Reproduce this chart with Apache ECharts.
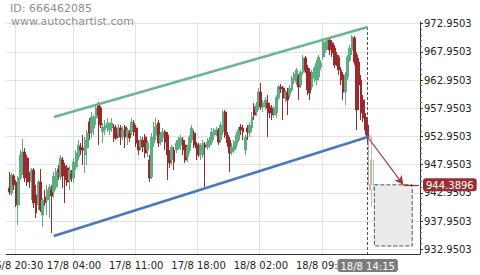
<!DOCTYPE html>
<html><head><meta charset="utf-8">
<script src="https://cdn.jsdelivr.net/npm/echarts@6/dist/echarts.min.js"></script>
<style>html,body{margin:0;padding:0;background:#fff}#c{width:480px;height:275px}</style>
</head><body><div id="c"></div>
<script>
// ---- data: candles [open, close, low, high], starting at category index 1 ----
const firstCandleIndex = 1;
const ohlc = [
[943.82,943.11,942.58,946.65],[942.93,946.12,942.40,946.48],[945.95,944.35,943.46,946.30],[944.88,940.80,940.45,945.24],
[940.80,945.59,937.26,945.95],[945.59,949.67,945.24,950.55],[946.65,950.20,946.12,952.51],[950.20,945.59,944.88,950.91],
[949.14,944.88,944.17,949.67],[945.59,945.06,943.82,946.65],[944.88,947.01,941.69,947.36],[947.01,941.16,940.27,947.36],
[942.58,939.39,938.50,944.35],[940.80,944.88,939.92,945.24],[944.88,939.92,939.56,947.19],[939.03,941.69,936.90,942.04],
[942.22,941.16,940.63,943.46],[941.69,943.46,939.03,944.35],[942.93,943.99,938.50,944.53],[943.46,942.40,935.84,944.35],
[943.11,945.95,942.04,946.65],[943.99,946.65,943.46,947.36],[947.19,946.65,945.24,947.90],[945.77,949.14,945.24,949.67],
[948.78,945.95,943.82,949.31],[947.72,945.24,941.16,948.25],[947.36,944.88,944.17,947.90],[945.24,947.01,943.46,947.72],
[946.30,945.59,944.88,947.01],[945.59,948.43,944.70,949.14],[947.54,950.02,947.01,950.55],[949.31,951.44,948.78,952.33],
[951.09,950.55,949.67,951.80],[950.91,950.55,947.90,953.21],[949.67,952.33,946.48,952.86],[950.91,953.57,947.90,954.10],
[955.52,953.57,952.33,956.23],[953.75,956.41,952.68,957.29],[954.46,956.41,953.21,956.76],[956.23,958.00,954.99,958.53],
[958.53,956.76,951.44,959.07],[958.00,954.99,954.46,958.36],[953.75,954.63,951.80,955.34],[954.10,954.99,953.21,955.87],
[954.46,955.34,953.75,956.23],[954.10,954.99,953.21,955.52],[954.46,955.34,953.75,956.23],[954.63,952.68,951.97,955.16],
[954.46,952.68,952.33,954.99],[953.21,954.46,952.68,955.16],[954.46,952.86,951.44,954.99],[952.86,954.10,952.33,954.81],
[954.63,952.86,950.91,954.99],[952.86,954.10,951.44,954.46],[953.57,952.68,951.97,954.10],[953.75,955.52,953.21,956.23],
[955.34,953.75,953.04,955.87],[954.46,951.80,951.09,954.99],[951.80,950.55,949.67,952.33],[951.09,952.33,950.55,953.04],
[952.33,951.09,950.20,952.86],[952.86,950.02,949.14,953.39],[950.55,951.80,949.31,952.33],[948.78,945.59,944.88,949.67],
[945.77,952.86,945.41,953.57],[951.80,954.63,951.09,955.52],[953.21,954.99,952.33,956.23],[955.34,951.80,951.09,955.87],
[951.97,953.21,951.44,953.75],[952.68,953.75,951.97,954.46],[953.75,951.97,950.55,954.10],[953.21,949.67,945.24,953.75],
[950.02,948.25,947.36,950.55],[948.78,951.09,947.90,951.44],[950.55,948.43,947.01,951.09],[950.55,951.80,950.02,952.33],
[950.91,952.33,950.55,952.86],[951.44,952.68,950.55,953.21],[952.33,950.55,949.67,952.86],[951.44,948.78,948.25,952.33],
[949.31,951.09,948.43,951.44],[950.55,952.86,950.02,953.21],[952.33,954.46,951.80,954.99],[953.57,951.44,950.91,954.10],
[951.44,950.91,948.78,951.97],[951.44,949.67,949.31,951.80],[949.67,951.44,948.78,951.80],[949.67,951.80,949.14,952.33],
[951.44,951.09,943.99,951.97],[951.09,951.97,950.55,952.68],[951.44,952.33,950.91,952.86],[951.97,953.75,951.44,954.46],
[953.21,954.10,952.33,954.46],[953.57,954.10,953.04,954.63],[954.10,951.97,951.44,954.46],[952.33,954.99,951.80,955.52],
[953.75,957.29,953.21,957.65],[957.29,953.21,952.68,957.65],[953.21,951.80,951.09,953.75],[952.33,950.02,946.65,952.86],
[950.20,951.09,949.67,951.80],[950.55,951.97,950.02,952.33],[951.44,953.21,950.91,953.75],[952.33,954.10,951.97,954.63],
[954.63,954.10,953.21,955.16],[954.46,953.75,952.33,954.99],[950.55,952.86,949.67,953.21],[954.46,953.75,952.33,954.99],
[953.57,954.99,952.86,955.52],[954.46,956.41,953.75,957.29],[958.18,956.76,955.87,958.89],[957.29,958.53,956.58,959.07],
[958.18,960.84,957.65,961.55],[960.84,958.18,957.65,962.43],[958.18,958.89,957.29,959.42],[958.53,959.42,957.65,959.95],
[958.89,958.00,952.86,960.31],[958.18,957.12,956.23,958.89],[958.00,956.76,955.87,958.53],[956.76,958.00,956.23,958.36],
[957.12,959.95,956.23,960.31],[959.77,961.72,959.42,962.08],[961.72,961.37,960.66,962.26],[961.55,959.77,955.87,961.90],
[959.77,960.84,959.07,961.19],[960.84,959.42,956.76,961.55],[960.31,961.55,959.77,962.08],[961.19,963.32,960.84,963.68],
[962.97,964.03,962.26,964.38],[962.61,964.74,962.08,965.09],[963.50,961.72,959.42,964.03],[962.08,964.38,961.55,964.74],
[964.38,966.87,963.85,967.40],[966.87,964.74,964.21,967.22],[965.09,961.19,960.31,965.63],[964.38,960.66,959.42,965.09],
[961.72,964.38,961.19,964.74],[963.32,965.09,962.61,965.45],[962.97,965.98,962.08,966.51],[963.50,967.04,962.97,967.40],
[965.27,965.98,964.74,966.51],[967.04,969.70,966.51,970.41],[968.28,969.35,967.75,969.88],[968.82,970.06,968.28,970.41],
[970.06,968.28,967.40,970.59],[969.53,967.75,967.04,970.06],[968.64,965.63,965.09,969.17],[967.40,966.16,965.45,967.93],
[967.04,964.74,963.85,967.40],[964.74,962.97,962.08,965.27],[963.85,960.84,959.42,964.38],[960.84,963.85,958.53,964.38],
[963.50,967.04,962.97,967.40],[966.51,968.64,966.16,969.17],[968.28,970.59,967.40,970.94],[970.41,966.16,965.63,970.77],
[967.40,957.65,954.10,967.93],[966.16,962.08,957.65,966.87],[962.97,957.12,955.87,963.85],[959.42,956.23,955.52,960.31],
[956.41,954.10,953.21,957.12],[954.99,952.86,951.97,955.87]
];
// candles after the pattern (faded)
const fadedStartIndex = 163;
const fadedOhlc = [[952.86,944.35,943.46,953.21],[943.46,948.78,940.45,951.80]];

// ---- axis ----
const categoryCount = 186;
const xLabelIndex = [4, 30, 58, 86, 114, 142];
const xLabels = ['16/8 20:30', '17/8 04:00', '17/8 11:00', '17/8 18:00', '18/8 02:00', '18/8 09:00'];
const xTickIndex = [4, 11, 17, 24, 30, 37, 44, 51, 58, 65, 72, 79, 86, 93, 100, 107, 114, 121, 128, 135, 142, 149, 156, 163, 170, 177, 184];
const lastBarIndex = 162;
const lastBarLabel = '18/8 14:15';
const yLabels = [932.9503, 937.9503, 942.9503, 947.9503, 952.9503, 957.9503, 962.9503, 967.9503, 972.9503];
const yMin = 932.12, yMax = 973.25;

// ---- pattern / forecast ----
const trendIndex = [21, 162];
const resistanceValues = [956.41, 972.36];
const supportValues = [935.31, 952.86];
const arrowIndex = [162, 178];
const arrowValues = [952.86, 944.3896];
const targetPrice = 944.3896;
const targetLineIndex = [178, 185];
const forecastIndex = [165, 182];
const forecastValues = [944.3896, 933.54];

// ---- build ----
const categories = [];
for (let i = 0; i < categoryCount; i++) {
  const k = xLabelIndex.indexOf(i);
  categories.push(k >= 0 ? xLabels[k] : (i === lastBarIndex ? lastBarLabel : 'c' + i));
}
const mainData = categories.map((c, i) => {
  const j = i - firstCandleIndex;
  return (j >= 0 && j < ohlc.length) ? ohlc[j] : '-';
});
const fadedData = categories.map((c, i) => {
  const j = i - fadedStartIndex;
  return (j >= 0 && j < fadedOhlc.length) ? fadedOhlc[j] : '-';
});
const yMinor = [];
yLabels.forEach((v, n) => { if (n < yLabels.length - 1) for (let s = 1; s < 5; s++) yMinor.push(+(v + s).toFixed(4)); });

const RED = '#9a282c', GREEN = '#5cad82';
const AX = '#333';
const FONT = 'DejaVu Sans';

const chart = echarts.init(document.getElementById('c'), null, { renderer: 'svg' });
const gridBox = { left: 6, right: 60, top: 22, bottom: 21, outerBoundsMode: 'none', containLabel: false };
chart.setOption({
  animation: false,
  backgroundColor: '#fff',
  graphic: [
    { type: 'text', left: 10, top: 3, style: { text: 'ID: 666462085', fill: '#8e8e8e', font: '11px "DejaVu Sans"' }, z: 100 },
    { type: 'text', left: 11, top: 16, style: { text: 'www.autochartist.com', fill: '#8e8e8e', font: '11px "DejaVu Sans"' }, z: 100 }
  ],
  grid: [Object.assign({}, gridBox), Object.assign({}, gridBox)],
  xAxis: [{
    type: 'category', data: categories, boundaryGap: true,
    axisLine: { lineStyle: { color: AX, width: 1 } },
    axisTick: { interval: (i) => xTickIndex.indexOf(i) >= 0, length: 3, lineStyle: { color: AX } },
    axisLabel: { interval: (i) => xLabelIndex.indexOf(i) >= 0, color: '#222', fontFamily: FONT, fontSize: 10, margin: 6 },
    splitLine: { show: true, interval: (i) => xLabelIndex.indexOf(i) >= 0, lineStyle: { color: '#e2e2e2', width: 1 } },
    axisPointer: {
      show: true, status: 'show', value: lastBarIndex, triggerTooltip: false, type: 'line',
      lineStyle: { opacity: 0 },
      label: { show: true, backgroundColor: '#7b7b7b', color: '#fff', fontFamily: FONT, fontSize: 10, padding: [2, 3, 1, 3], margin: 5 }
    }
  }, {
    type: 'category', gridIndex: 1, data: categories, show: false
  }],
  yAxis: [{
    type: 'value', position: 'right', min: yMin, max: yMax, scale: true,
    axisLine: { show: true, lineStyle: { color: AX, width: 1 } },
    axisTick: { show: true, customValues: yLabels, length: 3, lineStyle: { color: AX } },
    axisLabel: { customValues: yLabels, formatter: (v) => Number(v).toFixed(4), color: '#222', fontFamily: FONT, fontSize: 10, margin: 4 },
    splitLine: { show: true, lineStyle: { color: '#e2e2e2', width: 1 } },
    axisPointer: {
      show: true, status: 'show', value: targetPrice, triggerTooltip: false, type: 'line',
      lineStyle: { opacity: 0 },
      label: { show: true, backgroundColor: '#9b2d31', color: '#fff', fontFamily: FONT, fontSize: 10, padding: [2, 3, 1, 3], margin: 3,
               formatter: (p) => Number(p.value).toFixed(4) }
    }
  }, {
    type: 'value', gridIndex: 1, position: 'right', min: yMin, max: yMax, scale: true,
    axisLine: { show: false }, axisLabel: { show: false }, splitLine: { show: false },
    axisTick: { show: true, customValues: yMinor, length: 2, lineStyle: { color: '#666' } }
  }],
  series: [{
    type: 'candlestick', name: 'price', data: mainData, barWidth: 2.4,
    itemStyle: { color: GREEN, color0: RED, borderColor: GREEN, borderColor0: RED, borderWidth: 1 },
    markArea: {
      silent: true,
      itemStyle: { color: '#ebebeb', borderColor: '#555', borderWidth: 1, borderType: 'dashed' },
      data: [[{ coord: [forecastIndex[0], forecastValues[0]] }, { coord: [forecastIndex[1], forecastValues[1]] }]]
    },
    markLine: {
      silent: true, animation: false, symbol: ['none', 'none'], label: { show: false },
      data: [
        [{ coord: [lastBarIndex, resistanceValues[1]], lineStyle: { color: '#555', width: 1, type: [3, 2] } }, { coord: [lastBarIndex, yMin] }],
        [{ coord: [trendIndex[0], resistanceValues[0]], lineStyle: { color: '#6bb890', width: 2.6, type: 'solid' } }, { coord: [trendIndex[1], resistanceValues[1]] }],
        [{ coord: [trendIndex[0], supportValues[0]], lineStyle: { color: '#4a78bb', width: 2.6, type: 'solid' } }, { coord: [trendIndex[1], supportValues[1]] }],
        [{ coord: [arrowIndex[0], arrowValues[0]], symbol: 'none', lineStyle: { color: '#a13a3d', width: 1.2, type: 'solid' } }, { coord: [arrowIndex[1], arrowValues[1]], symbol: 'arrow', symbolSize: [7, 9] }],
        [{ coord: [targetLineIndex[0], targetPrice], lineStyle: { color: '#9b2d31', width: 1.2, type: 'solid' } }, { coord: [targetLineIndex[1], targetPrice] }]
      ]
    }
  }, {
    type: 'candlestick', name: 'after', data: fadedData, barWidth: 3,
    itemStyle: { color: 'rgba(255,255,255,0)', color0: 'rgba(255,255,255,0)', borderColor: '#9fd3b6', borderColor0: '#d89da0', borderWidth: 1 }
  }]
});
</script></body></html>
